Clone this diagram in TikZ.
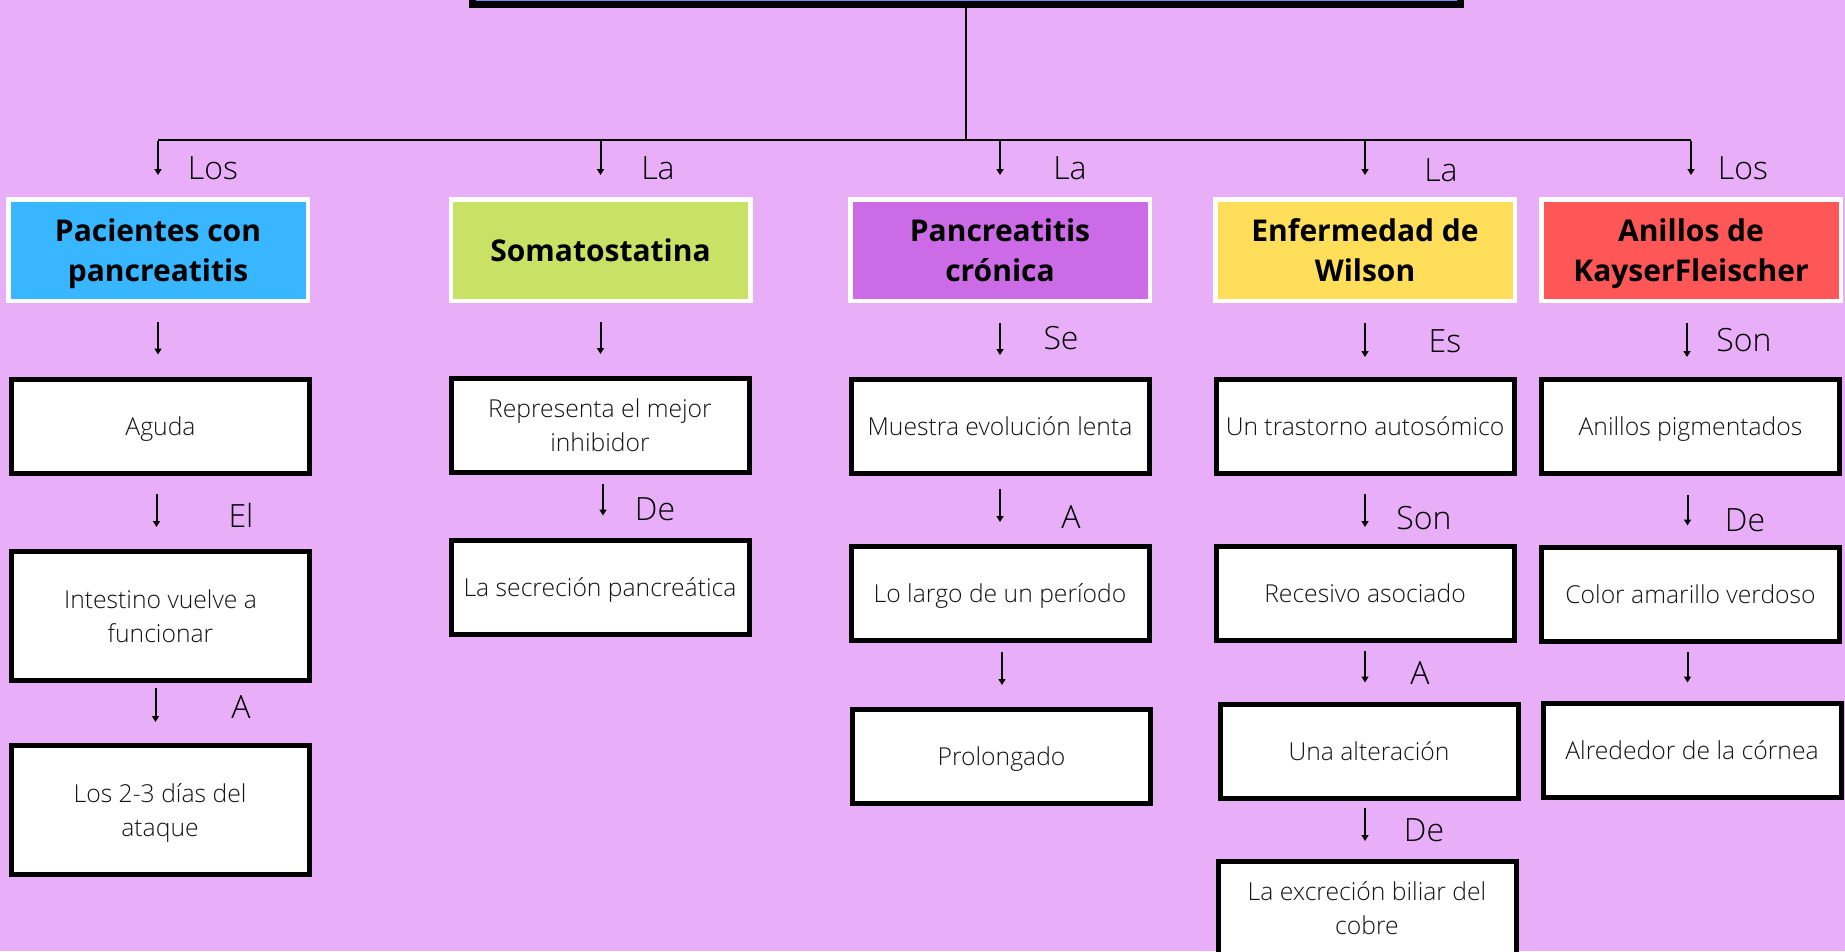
\documentclass[tikz,border=0pt]{standalone}
\usepackage{fontspec}
\setmainfont{Open Sans}
\IfFontExistsTF{Open Sans Light}{\newfontfamily\lightfont{Open Sans Light}}{\newfontfamily\lightfont{Open Sans}}
\usetikzlibrary{arrows.meta}
\definecolor{bg}{HTML}{E8AEF8}
\definecolor{colA}{HTML}{38B6FF}
\definecolor{colB}{HTML}{C9E265}
\definecolor{colC}{HTML}{CB6CE6}
\definecolor{colD}{HTML}{FFDE59}
\definecolor{colE}{HTML}{FF5757}
\definecolor{topblue}{HTML}{6C8CFF}
\definecolor{txt}{HTML}{141414}
\newcommand{\bst}{\rule[-6pt]{0pt}{30pt}}
\newcommand{\hst}{\rule[-7.5pt]{0pt}{37.5pt}}
\tikzset{
  wbox/.style={draw=black, line width=5pt, fill=white, minimum width=298pt, minimum height=94pt,
    inner sep=0pt, align=center, text=txt, font=\lightfont\fontsize{24.7pt}{34pt}\selectfont},
  tallbox/.style={wbox, minimum height=129pt},
  hbox/.style={draw=white, line width=4.5pt, minimum width=299.5pt, minimum height=101.5pt,
    inner sep=0pt, align=center, text=black, font=\bfseries\fontsize{30pt}{40pt}\selectfont},
  lbl/.style={font=\lightfont\fontsize{32pt}{36pt}\selectfont, inner sep=0pt, text=black},
  arr/.style={line width=2pt, -{Triangle[width=7pt,length=6pt]}},
  bus/.style={line width=2pt},
}
\begin{document}
\begin{tikzpicture}[x=1pt,y=-1pt]
\useasboundingbox (0,0) rectangle (1845,951);
\fill[bg] (0,0) rectangle (1845,951);
\begin{scope}
\clip (0,0) rectangle (1845,951);
% top (title) box, mostly cut off
\node[draw=black, line width=7pt, fill=topblue, minimum width=988pt, minimum height=110pt, inner sep=0pt] (top) at (966,-51) {};
\coordinate (hub) at (966,140);
% header boxes
\node[hbox, fill=colA] (h1) at (158,250) {\hst Pacientes con\\\hst pancreatitis};
\node[hbox, fill=colB] (h2) at (600.5,250) {\hst Somatostatina};
\node[hbox, fill=colC] (h3) at (1000,250) {\hst Pancreatitis\\\hst crónica};
\node[hbox, fill=colD] (h4) at (1365,250) {\hst Enfermedad de\\\hst Wilson};
\node[hbox, fill=colE] (h5) at (1691,250) {\hst Anillos de\\\hst KayserFleischer};
% column 1
\node[wbox] (a1) at (160.5,426) {\bst Aguda};
\node[tallbox] (a2) at (160.5,616) {\bst Intestino vuelve a\\\bst funcionar};
\node[tallbox] (a3) at (160,810) {\bst Los 2-3 días del\\\bst ataque};
% column 2
\node[wbox] (b1) at (600,425.5) {\bst Representa el mejor\\\bst inhibidor};
\node[wbox] (b2) at (600,587) {\bst La secreción pancreática};
% column 3
\node[wbox] (c1) at (1000,426.5) {\bst Muestra evolución lenta};
\node[wbox] (c2) at (1000,593.5) {\bst Lo largo de un período};
\node[wbox] (c3) at (1001.5,756.5) {\bst Prolongado};
% column 4
\node[wbox] (d1) at (1365,426.5) {\bst Un trastorno autosómico};
\node[wbox] (d2) at (1365,593.5) {\bst Recesivo asociado};
\node[wbox] (d3) at (1369,751) {\bst Una alteración};
\node[wbox] (d4) at (1367,908.5) {\bst La excreción biliar del\\\bst cobre};
% column 5
\node[wbox] (e1) at (1690.5,426.5) {\bst Anillos pigmentados};
\node[wbox] (e2) at (1690.5,594) {\bst Color amarillo verdoso};
\node[wbox] (e3) at (1692,750) {\bst Alrededor de la córnea};
% bus lines
\draw[bus] (top.south) -- (hub);
\draw[bus] (h1.north |- hub) -- (h5.north |- hub);
\foreach \h in {h1,h2,h3,h4,h5}{
  \draw[arr, shorten <=1pt, shorten >=22pt] (\h.north |- hub) -- (\h.north);
}
% column arrows
\draw[arr, shorten <=19pt, shorten >=22pt] (h1.south) -- (h1.south |- a1.north);
\draw[arr, shorten <=18pt, shorten >=22pt] ([xshift=-4pt]a1.south) -- ([xshift=-4pt]a1.south |- a2.north);
\draw[arr, shorten <=5pt, shorten >=21pt] ([xshift=-5pt]a2.south) -- ([xshift=-5pt]a2.south |- a3.north);
\draw[arr, shorten <=19pt, shorten >=22pt] (h2.south) -- (h2.south |- b1.north);
\draw[arr, shorten <=9pt, shorten >=22pt] ([xshift=3pt]b1.south) -- ([xshift=3pt]b1.south |- b2.north);
\draw[arr, shorten <=20pt, shorten >=22pt] (h3.south) -- (h3.south |- c1.north);
\draw[arr, shorten <=13pt, shorten >=22pt] (c1.south) -- (c1.south |- c2.north);
\draw[arr, shorten <=9pt, shorten >=22pt] ([xshift=2pt]c2.south) -- ([xshift=2pt]c2.south |- c3.north);
\draw[arr, shorten <=20pt, shorten >=20pt] (h4.south) -- (h4.south |- d1.north);
\draw[arr, shorten <=18pt, shorten >=17pt] (d1.south) -- (d1.south |- d2.north);
\draw[arr, shorten <=8pt, shorten >=19pt] (d2.south) -- (d2.south |- d3.north);
\draw[arr, shorten <=7pt, shorten >=18pt] ([xshift=-4pt]d3.south) -- ([xshift=-4pt]d3.south |- d4.north);
\draw[arr, shorten <=20pt, shorten >=20pt] ([xshift=-4pt]h5.south) -- ([xshift=-4pt]h5.south |- e1.north);
\draw[arr, shorten <=19pt, shorten >=19pt] ([xshift=-3pt]e1.south) -- ([xshift=-3pt]e1.south |- e2.north);
\draw[arr, shorten <=8pt, shorten >=18pt] ([xshift=-3pt]e2.south) -- ([xshift=-3pt]e2.south |- e3.north);
% labels
\node[lbl] (l1) at (213,168) {Los};
\node[lbl] (l2) at (658,168) {La};
\node[lbl] (l3) at (1070,168) {La};
\node[lbl] (l4) at (1441,170) {La};
\node[lbl] (l5) at (1743,168) {Los};
\node[lbl] (la1) at (241,515) {El};
\node[lbl] (la2) at (241,707) {A};
\node[lbl] (lb1) at (655,509) {De};
\node[lbl] (lc1) at (1061,338) {Se};
\node[lbl] (lc2) at (1071,517) {A};
\node[lbl] (ld1) at (1445,341) {Es};
\node[lbl] (ld2) at (1424,518) {Son};
\node[lbl] (ld3) at (1420,673) {A};
\node[lbl] (ld4) at (1424,830) {De};
\node[lbl] (le1) at (1744,340) {Son};
\node[lbl] (le2) at (1745,520) {De};
\end{scope}
\end{tikzpicture}
\end{document}
